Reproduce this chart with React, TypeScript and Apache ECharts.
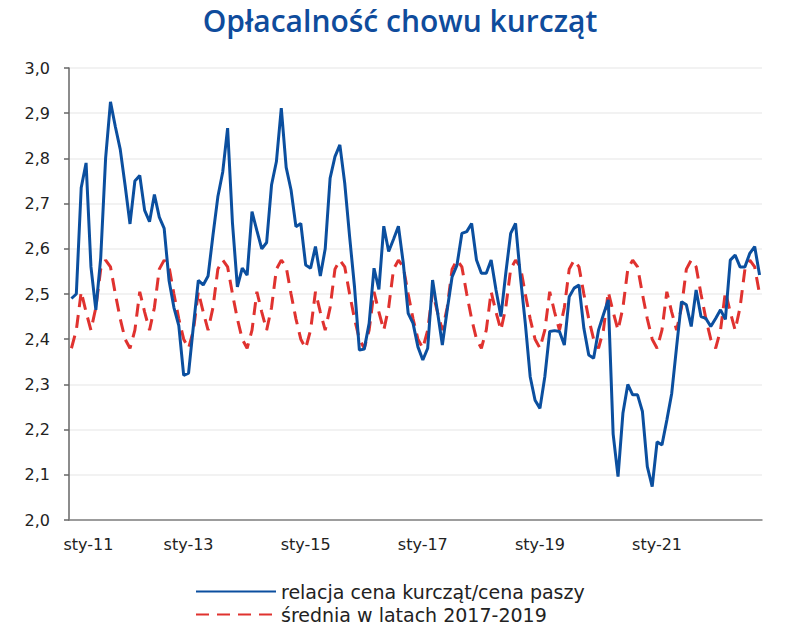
import React, { useEffect, useRef } from "react";
import * as echarts from "echarts";

const MONTHS = ["sty", "lut", "mar", "kwi", "maj", "cze", "lip", "sie", "wrz", "paź", "lis", "gru"];
const YEARS = ["11", "12", "13", "14", "15", "16", "17", "18", "19", "20", "21", "22"];

// relacja cena kurcząt / cena paszy, monthly from sty-11
const ratio2011 = [2.49, 2.5, 2.735, 2.79, 2.56, 2.465, 2.58, 2.8, 2.925, 2.87, 2.82, 2.74];
const ratio2012 = [2.655, 2.75, 2.762, 2.685, 2.66, 2.72, 2.67, 2.645, 2.53, 2.47, 2.43, 2.32];
const ratio2013 = [2.325, 2.43, 2.53, 2.52, 2.54, 2.63, 2.715, 2.77, 2.867, 2.656, 2.516, 2.557];
const ratio2014 = [2.542, 2.682, 2.64, 2.6, 2.614, 2.741, 2.793, 2.911, 2.78, 2.73, 2.649, 2.656];
const ratio2015 = [2.564, 2.557, 2.605, 2.54, 2.6, 2.756, 2.804, 2.83, 2.745, 2.627, 2.516, 2.376];
const ratio2016 = [2.378, 2.435, 2.557, 2.51, 2.65, 2.594, 2.621, 2.65, 2.568, 2.457, 2.435, 2.383];
const ratio2017 = [2.354, 2.38, 2.531, 2.461, 2.387, 2.465, 2.538, 2.564, 2.634, 2.638, 2.656, 2.575];
const ratio2018 = [2.546, 2.546, 2.575, 2.509, 2.45, 2.546, 2.634, 2.656, 2.538, 2.435, 2.317, 2.265];
const ratio2019 = [2.247, 2.317, 2.417, 2.419, 2.417, 2.387, 2.494, 2.513, 2.52, 2.424, 2.365, 2.358];
const ratio2020 = [2.42, 2.454, 2.487, 2.19, 2.096, 2.236, 2.3, 2.277, 2.277, 2.24, 2.118, 2.074];
const ratio2021 = [2.173, 2.166, 2.221, 2.28, 2.383, 2.483, 2.476, 2.428, 2.509, 2.45, 2.446, 2.428];
const ratio2022 = [2.446, 2.465, 2.444, 2.575, 2.586, 2.56, 2.56, 2.59, 2.605, 2.542];

// średnia w latach 2017-2019, by calendar month (sty..gru)
const avg2017_2019 = [2.38, 2.42, 2.505, 2.46, 2.42, 2.47, 2.555, 2.575, 2.56, 2.5, 2.445, 2.4];

const Y_TICKS = [2.0, 2.1, 2.2, 2.3, 2.4, 2.5, 2.6, 2.7, 2.8, 2.9, 3.0];

const ratio = [
  ...ratio2011, ...ratio2012, ...ratio2013, ...ratio2014, ...ratio2015, ...ratio2016,
  ...ratio2017, ...ratio2018, ...ratio2019, ...ratio2020, ...ratio2021, ...ratio2022,
];

const categories: string[] = [];
YEARS.forEach((y) => MONTHS.forEach((m) => categories.push(`${m}-${y}`)));
categories.length = ratio.length;

const average = categories.map((_, i) => avg2017_2019[i % 12]);

const TITLE_FONT = "'Open Sans', 'Noto Sans', sans-serif";
const FONT = "'DejaVu Sans', 'Open Sans', sans-serif";

export default function App() {
  const ref = useRef<HTMLDivElement>(null);
  useEffect(() => {
    document.body.style.margin = "0";
    const chart = echarts.init(ref.current!, null, { renderer: "svg" });
    chart.setOption({
      animation: false,
      backgroundColor: "#ffffff",
      textStyle: { fontFamily: FONT },
      title: {
        text: "Opłacalność chowu kurcząt",
        left: "center",
        top: 0,
        textStyle: { fontFamily: TITLE_FONT, fontSize: 30, fontWeight: 600, color: "#0f4c9c" },
      },
      grid: { left: 69, right: 38, top: 68, bottom: 123 },
      xAxis: {
        type: "category",
        data: categories,
        boundaryGap: true,
        axisLine: { lineStyle: { color: "#808080", width: 1.5 } },
        axisTick: {
          interval: (i: number) => i % 24 === 0,
          length: 6,
          lineStyle: { color: "#808080", width: 1.5 },
        },
        axisLabel: {
          interval: (i: number) => i % 24 === 0,
          fontSize: 16,
          color: "#222",
          margin: 16,
          fontFamily: FONT,
          formatter: (v: string, i: number) => (i === 0 ? `{a|${v}}` : v),
          rich: { a: { fontSize: 16, color: "#222", fontFamily: FONT, padding: [0, 0, 0, 34] } },
        },
        splitLine: { show: false },
      },
      yAxis: {
        type: "value",
        min: Y_TICKS[0],
        max: Y_TICKS[Y_TICKS.length - 1],
        interval: 0.1,
        axisLine: { show: true, lineStyle: { color: "#666", width: 1.5 } },
        axisTick: { show: true, length: 5, lineStyle: { color: "#666", width: 1.5 } },
        axisLabel: {
          fontSize: 16,
          color: "#222",
          margin: 19,
          fontFamily: FONT,
          formatter: (v: number) => v.toFixed(1).replace(".", ","),
        },
        splitLine: { lineStyle: { color: "#eeeeee", width: 1.5 } },
      },
      legend: {
        orient: "vertical",
        left: 190,
        top: 577,
        itemWidth: 80,
        itemHeight: 18,
        itemGap: 4,
        itemStyle: { opacity: 0 },
        textStyle: { fontSize: 19, color: "#222", fontFamily: FONT },
        data: ["relacja cena kurcząt/cena paszy", "średnia w latach 2017-2019"],
      },
      series: [
        {
          name: "relacja cena kurcząt/cena paszy",
          type: "line",
          data: ratio,
          symbol: "none",
          lineStyle: { color: "#0b4f9f", width: 3 },
          itemStyle: { color: "#0b4f9f" },
          z: 3,
        },
        {
          name: "średnia w latach 2017-2019",
          type: "line",
          data: average,
          symbol: "none",
          lineStyle: { color: "#e0322f", width: 3, type: [13, 8] },
          itemStyle: { color: "#e0322f" },
          z: 2,
        },
      ],
    });
    return () => chart.dispose();
  }, []);
  return <div ref={ref} style={{ width: 800, height: 643 }} />;
}
